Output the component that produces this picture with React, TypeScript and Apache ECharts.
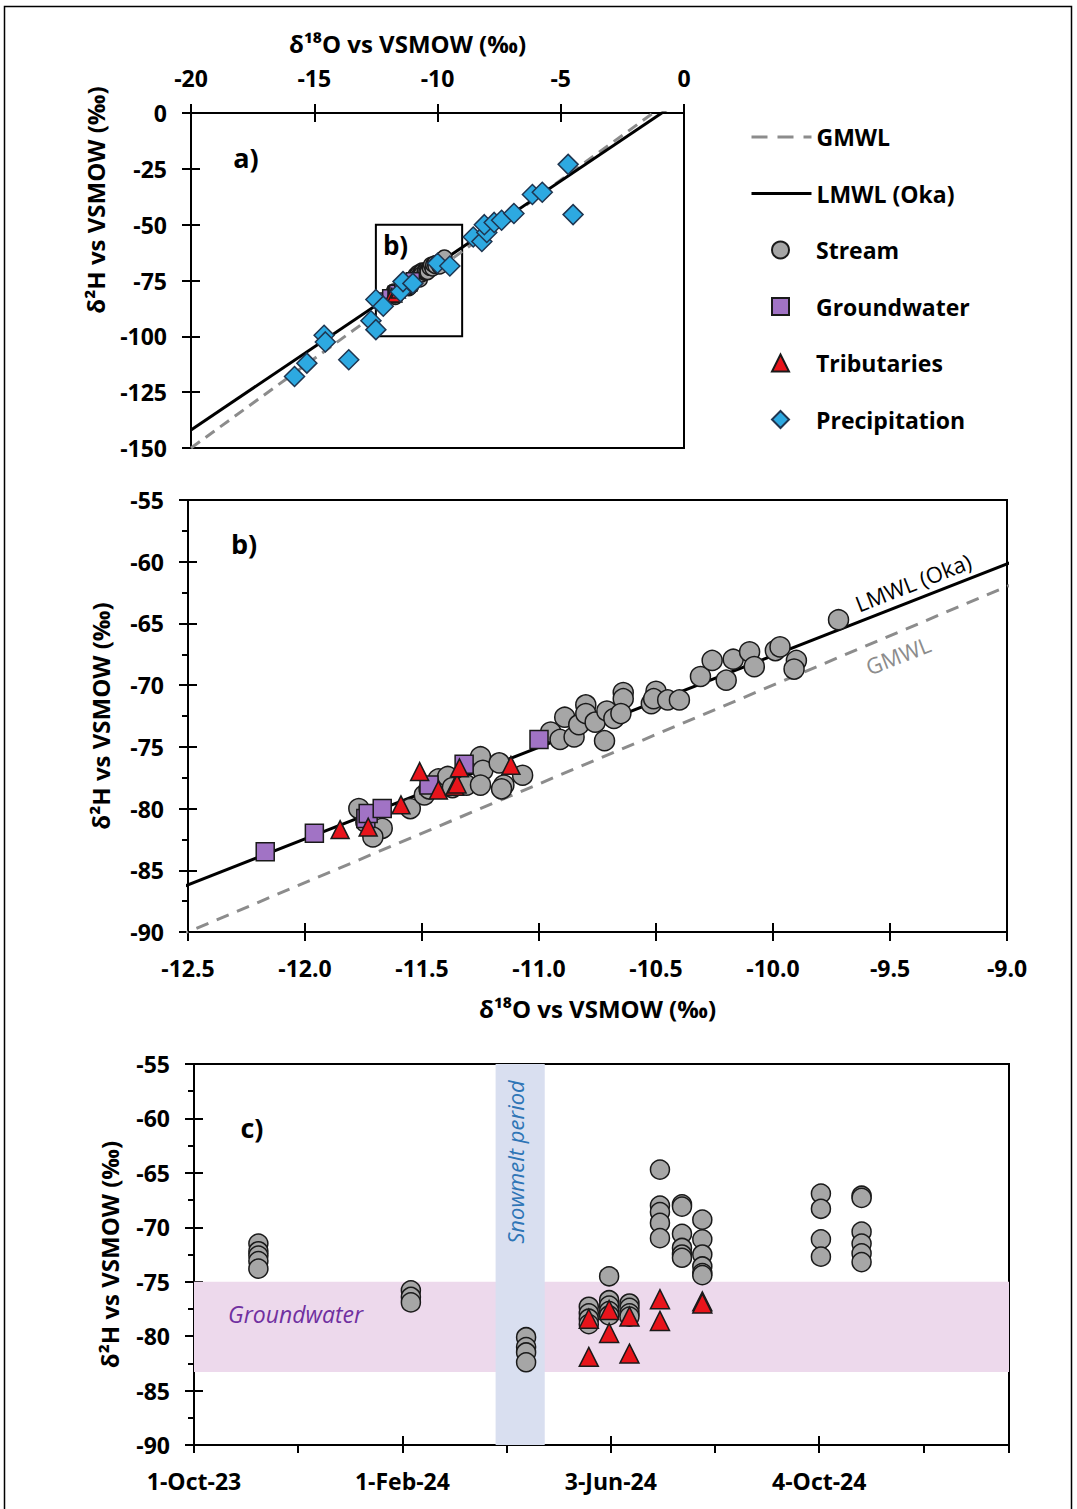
import React, { useEffect, useRef } from 'react';
import * as echarts from 'echarts';

const FONT = '"Open Sans", "Noto Sans", "DejaVu Sans", sans-serif';

// Isotope pairs [δ18O, δ2H] in ‰ vs VSMOW
const streamIsotopes: number[][] = [
  [-11.77, -80.0], [-11.74, -81.1], [-11.67, -81.6], [-11.71, -82.3], [-11.55, -80.0],
  [-11.49, -78.9], [-11.47, -78.4], [-11.43, -77.6], [-11.39, -77.4], [-11.37, -78.3],
  [-11.31, -78.1], [-11.25, -75.8], [-11.24, -76.9], [-11.25, -78.1], [-11.17, -76.3],
  [-11.15, -78.1], [-11.16, -78.4], [-11.07, -77.3],
  [-10.95, -73.8], [-10.91, -74.4], [-10.89, -72.6], [-10.85, -74.2], [-10.83, -73.2],
  [-10.80, -71.6], [-10.80, -72.3], [-10.76, -73.0], [-10.71, -72.1], [-10.68, -72.7],
  [-10.72, -74.5], [-10.64, -70.6], [-10.64, -71.1], [-10.65, -72.3], [-10.52, -71.5],
  [-10.50, -70.5], [-10.51, -71.1], [-10.45, -71.2], [-10.40, -71.2], [-10.31, -69.3],
  [-10.26, -68.0], [-10.20, -69.6], [-10.17, -67.9], [-10.10, -67.3], [-10.08, -68.5],
  [-9.99, -67.2], [-9.97, -66.9], [-9.90, -68.0], [-9.91, -68.7], [-9.72, -64.7],
];

const groundwaterIsotopes: number[][] = [
  [-12.17, -83.5], [-11.96, -82.0], [-11.74, -80.8], [-11.73, -80.4],
  [-11.67, -80.0], [-11.47, -78.1], [-11.32, -76.4], [-11.00, -74.4],
];

const tributaryIsotopes: number[][] = [
  [-11.85, -81.7], [-11.73, -81.5], [-11.59, -79.7], [-11.51, -77.0], [-11.43, -78.5],
  [-11.36, -78.2], [-11.35, -78.0], [-11.34, -76.7], [-11.12, -76.5],
];

const precipitationIsotopes: number[][] = [
  [-15.8, -118.0], [-15.3, -112.0], [-14.6, -99.5], [-14.55, -102.5], [-13.6, -110.5],
  [-12.7, -93.0], [-12.5, -97.0], [-12.5, -83.5], [-12.2, -86.5], [-11.5, -80.0],
  [-11.4, -75.5], [-11.0, -76.3], [-10.0, -67.3], [-9.5, -68.5], [-8.55, -55.5],
  [-8.2, -57.5], [-8.0, -53.5], [-8.1, -50.0], [-7.7, -49.0], [-7.4, -48.0],
  [-6.9, -45.0], [-6.15, -36.5], [-5.75, -35.5], [-4.7, -23.0], [-4.5, -45.5],
];

// Meteoric water lines, given by their end points
const mwlEndsO18 = [-20, 0];
const gmwlEndsH2 = [-150, 10];
const lmwlEndsH2 = [-141.9, 6.7];

// Extent of the enlarged view, outlined in the overview plot
const zoomBoxO18 = [-12.5, -9];
const zoomBoxH2 = [-50, -100];

// Sampling date and δ2H
const streamTimeSeries: [string, number][] = [
  ['2023-11-08', -71.5], ['2023-11-08', -72.2], ['2023-11-08', -72.6], ['2023-11-08', -73.1], ['2023-11-08', -73.8],
  ['2024-02-06', -75.8], ['2024-02-06', -76.4], ['2024-02-06', -76.9],
  ['2024-04-14', -80.1], ['2024-04-14', -81.0], ['2024-04-14', -81.5], ['2024-04-14', -82.4],
  ['2024-05-21', -77.3], ['2024-05-21', -77.9], ['2024-05-21', -78.4], ['2024-05-21', -78.9],
  ['2024-06-02', -74.5], ['2024-06-02', -76.7], ['2024-06-02', -77.2], ['2024-06-02', -77.7], ['2024-06-02', -78.1],
  ['2024-06-14', -77.0], ['2024-06-14', -77.4], ['2024-06-14', -77.9], ['2024-06-14', -78.2],
  ['2024-07-02', -64.7], ['2024-07-02', -68.0], ['2024-07-02', -68.6], ['2024-07-02', -69.6], ['2024-07-02', -71.0],
  ['2024-07-15', -67.9], ['2024-07-15', -68.1], ['2024-07-15', -70.6], ['2024-07-15', -71.9], ['2024-07-15', -72.5], ['2024-07-15', -72.8],
  ['2024-07-27', -69.3], ['2024-07-27', -71.1], ['2024-07-27', -72.5], ['2024-07-27', -73.6], ['2024-07-27', -74.2], ['2024-07-27', -74.4],
  ['2024-10-05', -66.9], ['2024-10-05', -68.3], ['2024-10-05', -71.1], ['2024-10-05', -72.7],
  ['2024-10-29', -67.1], ['2024-10-29', -67.3], ['2024-10-29', -70.4], ['2024-10-29', -71.5], ['2024-10-29', -72.4], ['2024-10-29', -73.2],
];

const tributaryTimeSeries: [string, number][] = [
  ['2024-05-21', -78.4], ['2024-05-21', -81.9],
  ['2024-06-02', -77.6], ['2024-06-02', -79.7],
  ['2024-06-14', -78.2], ['2024-06-14', -81.6],
  ['2024-07-02', -76.6], ['2024-07-02', -78.6],
  ['2024-07-27', -76.8], ['2024-07-27', -77.0],
];

const snowmeltPeriod = ['2024-03-27', '2024-04-25'];
const groundwaterRange = [-75, -83.3];

const timeAxisStart = '2023-10-01';
const timeAxisEnd = '2025-01-24';
const dateTickLabels = ['1-Oct-23', '1-Feb-24', '3-Jun-24', '4-Oct-24'];
const dateTickStep = 123; // days between labelled ticks

const dayNumber = (s: string) => {
  const [y, m, d] = s.split('-').map(Number);
  return Date.UTC(y, m - 1, d) / 86400000;
};
const toDays = (s: string) => dayNumber(s) - dayNumber(timeAxisStart);

const COLORS = {
  stream: '#A6A6A6',
  groundwater: '#A173C5',
  tributary: '#E8141B',
  precipitation: '#2DA9E1',
  edge: '#1A1A1A',
  precipEdge: '#1F3550',
  gmwl: '#8C8C8C',
};

const tickLine = { color: '#000', width: 2 };
const labelFont = { color: '#000', fontFamily: FONT, fontWeight: 'bold' as const, fontSize: 23 };
const titleFont = { color: '#000', fontFamily: FONT, fontWeight: 'bold' as const, fontSize: 24 };

const GRIDS = [
  { left: 191, top: 113, width: 493, height: 335 },
  { left: 188, top: 500, width: 819, height: 432 },
  { left: 194, top: 1064, width: 815, height: 381 },
];

function mainAxis(gridIndex: number, position: string, min: number, max: number, interval: number, extra: any = {}) {
  return {
    gridIndex,
    type: 'value',
    position,
    min,
    max,
    interval,
    axisLine: { show: true, onZero: false, lineStyle: { color: '#000', width: 2 } },
    axisTick: { show: true, inside: false, length: 9, lineStyle: tickLine },
    axisLabel: { ...labelFont, margin: 24 },
    splitLine: { show: false },
    ...extra,
  };
}

// Companion axis drawing the inner half of the crossing major ticks
function innerTickAxis(gridIndex: number, position: string, min: number, max: number, interval: number) {
  return {
    gridIndex,
    type: 'value',
    position,
    min,
    max,
    interval,
    axisLine: { show: false, onZero: false },
    axisTick: { show: true, inside: true, length: 9, lineStyle: tickLine },
    axisLabel: { show: false },
    splitLine: { show: false },
  };
}

const mwlData = (ends: number[]) => mwlEndsO18.map((o, i) => [o, ends[i]]);

function mwlSeries(name: string, ends: number[], color: string, type: any, axis: number, extra: any = {}) {
  return {
    type: 'line',
    name,
    xAxisIndex: axis,
    yAxisIndex: axis,
    data: mwlData(ends),
    symbol: 'none',
    itemStyle: { color: 'rgba(0,0,0,0)', borderWidth: 0 },
    lineStyle: { color, width: 3, type },
    clip: true,
    silent: true,
    z: 2,
    ...extra,
  };
}

function scatterSeries(name: string, data: any[], symbol: string, size: number, color: string, border: string, axis: number, extra: any = {}) {
  return {
    type: 'scatter',
    name,
    xAxisIndex: axis,
    yAxisIndex: axis,
    data,
    symbol,
    symbolSize: size,
    itemStyle: { color, borderColor: border, borderWidth: 1.5, opacity: 1 },
    silent: true,
    z: 3,
    ...extra,
  };
}

const O18_NAME = 'δ¹⁸O vs VSMOW (‰)';
const H2_NAME = 'δ²H vs VSMOW (‰)';

const timeData = (rows: [string, number][]) => rows.map(([d, v]) => [toDays(d), v]);

const option: any = {
  animation: false,
  backgroundColor: '#fff',
  grid: [
    { ...GRIDS[0], show: true, borderColor: '#000', borderWidth: 2, backgroundColor: 'transparent' },
    { ...GRIDS[0], show: false },
    { ...GRIDS[1], show: true, borderColor: '#000', borderWidth: 2, backgroundColor: 'transparent' },
    { ...GRIDS[1], show: false },
    { ...GRIDS[2], show: true, borderColor: '#000', borderWidth: 2, backgroundColor: 'transparent' },
    { ...GRIDS[2], show: false },
  ],
  xAxis: [
    mainAxis(0, 'top', -20, 0, 5, {
      name: O18_NAME,
      nameLocation: 'middle',
      nameGap: 58,
      nameTextStyle: { ...titleFont, padding: [0, 60, 0, 0] },
    }),
    innerTickAxis(1, 'top', -20, 0, 5),
    mainAxis(2, 'bottom', -12.5, -9, 0.5, {
      axisLabel: { ...labelFont, margin: 24, formatter: (v: number) => v.toFixed(1) },
      name: O18_NAME,
      nameLocation: 'middle',
      nameGap: 64,
      nameTextStyle: titleFont,
    }),
    innerTickAxis(3, 'bottom', -12.5, -9, 0.5),
    mainAxis(4, 'bottom', 0, toDays(timeAxisEnd), dateTickStep / 2, {
      axisTick: { show: true, inside: false, length: 8, lineStyle: tickLine },
      axisLabel: {
        ...labelFont,
        margin: 24,
        formatter: (v: number) => {
          const k = Math.round(v / dateTickStep);
          return Math.abs(v - k * dateTickStep) < 1e-6 ? dateTickLabels[k] ?? '' : '';
        },
      },
    }),
    innerTickAxis(5, 'bottom', 0, toDays(timeAxisEnd), dateTickStep),
  ],
  yAxis: [
    mainAxis(0, 'left', -150, 0, 25),
    innerTickAxis(1, 'left', -150, 0, 25),
    mainAxis(2, 'left', -90, -55, 5, {
      minorTick: { show: true, splitNumber: 2, length: 6, lineStyle: tickLine },
      name: H2_NAME,
      nameLocation: 'middle',
      nameRotate: 90,
      nameGap: 76,
      nameTextStyle: titleFont,
    }),
    innerTickAxis(3, 'left', -90, -55, 5),
    mainAxis(4, 'left', -90, -55, 5, {
      minorTick: { show: true, splitNumber: 2, length: 6, lineStyle: tickLine },
      name: H2_NAME,
      nameLocation: 'middle',
      nameRotate: 90,
      nameGap: 73,
      nameTextStyle: titleFont,
    }),
    innerTickAxis(5, 'left', -90, -55, 5),
  ],
  legend: [
    {
      data: [{ name: 'GMWL', lineStyle: { type: [16, 10] } }, { name: 'LMWL (Oka)' }],
      orient: 'vertical',
      left: 745,
      top: 120,
      itemWidth: 60,
      itemHeight: 14,
      itemGap: 32.5,
      selectedMode: false,
      lineStyle: { width: 3 },
      textStyle: { ...titleFont, fontSize: 23, lineHeight: 24 },
    },
    {
      data: ['Stream', 'Groundwater', 'Tributaries', 'Precipitation'],
      orient: 'vertical',
      left: 766,
      top: 233,
      itemWidth: 17,
      itemHeight: 17,
      itemGap: 32.5,
      selectedMode: false,
      textStyle: { ...titleFont, fontSize: 23, lineHeight: 24, padding: [0, 0, 0, 22] },
    },
  ],
  series: [
    // Overview (a)
    mwlSeries('GMWL', gmwlEndsH2, COLORS.gmwl, [11, 7], 0, {
      markArea: {
        silent: true,
        itemStyle: { color: 'rgba(0,0,0,0)', borderColor: '#000', borderWidth: 2 },
        label: { show: true, position: 'insideTopLeft', distance: 8, ...titleFont, fontSize: 26 },
        data: [[{ name: 'b)', coord: [zoomBoxO18[0], zoomBoxH2[0]] }, { coord: [zoomBoxO18[1], zoomBoxH2[1]] }]],
      },
    }),
    mwlSeries('LMWL (Oka)', lmwlEndsH2, '#000', 'solid', 0),
    scatterSeries('Stream', streamIsotopes, 'circle', 15, COLORS.stream, COLORS.edge, 0),
    scatterSeries('Groundwater', groundwaterIsotopes, 'rect', 13, COLORS.groundwater, COLORS.edge, 0),
    scatterSeries('Tributaries', tributaryIsotopes, 'triangle', 14, COLORS.tributary, COLORS.edge, 0),
    scatterSeries('Precipitation', precipitationIsotopes, 'diamond', 20, COLORS.precipitation, COLORS.precipEdge, 0),
    // Enlarged view (b)
    mwlSeries('GMWL', gmwlEndsH2, COLORS.gmwl, [13, 9], 2),
    mwlSeries('LMWL (Oka)', lmwlEndsH2, '#000', 'solid', 2),
    scatterSeries('Stream', streamIsotopes, 'circle', 20, COLORS.stream, COLORS.edge, 2),
    scatterSeries('Groundwater', groundwaterIsotopes, 'rect', 18, COLORS.groundwater, COLORS.edge, 2),
    scatterSeries('Tributaries', tributaryIsotopes, 'triangle', 18, COLORS.tributary, COLORS.edge, 2),
    // Time series (c)
    scatterSeries('Stream', timeData(streamTimeSeries), 'circle', 19, COLORS.stream, COLORS.edge, 4, {
      markArea: {
        silent: true,
        data: [
          [
            {
              name: 'Groundwater',
              yAxis: groundwaterRange[0],
              itemStyle: { color: '#EDD9EC' },
              label: {
                show: true,
                position: 'insideLeft',
                distance: 34,
                offset: [0, -13],
                color: '#7030A0',
                fontFamily: FONT,
                fontStyle: 'italic',
                fontSize: 23,
              },
            },
            { yAxis: groundwaterRange[1] },
          ],
          [
            {
              name: 'Snowmelt period',
              xAxis: toDays(snowmeltPeriod[0]),
              itemStyle: { color: '#D9DFF0' },
              label: { show: false },
            },
            { xAxis: toDays(snowmeltPeriod[1]) },
          ],
        ],
      },
    }),
    scatterSeries('Tributaries', timeData(tributaryTimeSeries), 'triangle', 19, COLORS.tributary, COLORS.edge, 4),
  ],
  graphic: [
    {
      type: 'rect',
      z: 100,
      shape: { x: 4.5, y: 6.5, width: 1067, height: 1530 },
      style: { fill: 'none', stroke: '#000', lineWidth: 1.5 },
      silent: true,
    },
    {
      type: 'text',
      z: 100,
      x: 95,
      y: 200,
      rotation: Math.PI / 2,
      style: { text: H2_NAME, ...titleFont, fill: '#000', align: 'center', verticalAlign: 'middle' },
      silent: true,
    },
    {
      type: 'text',
      z: 100,
      x: 246,
      y: 157,
      style: { text: 'a)', ...titleFont, fontSize: 27, fill: '#000', align: 'center', verticalAlign: 'middle' },
      silent: true,
    },
    {
      type: 'text',
      z: 100,
      x: 244,
      y: 543,
      style: { text: 'b)', ...titleFont, fontSize: 27, fill: '#000', align: 'center', verticalAlign: 'middle' },
      silent: true,
    },
    {
      type: 'text',
      z: 100,
      x: 252,
      y: 1127,
      style: { text: 'c)', ...titleFont, fontSize: 27, fill: '#000', align: 'center', verticalAlign: 'middle' },
      silent: true,
    },
    {
      type: 'text',
      z: 100,
      x: 913,
      y: 582,
      rotation: (21.4 * Math.PI) / 180,
      style: { text: 'LMWL (Oka)', fontFamily: FONT, fontSize: 22, fill: '#000', align: 'center', verticalAlign: 'middle' },
      silent: true,
    },
    {
      type: 'text',
      z: 100,
      x: 898,
      y: 655,
      rotation: (21.4 * Math.PI) / 180,
      style: { text: 'GMWL', fontFamily: FONT, fontSize: 22, fill: '#8C8C8C', align: 'center', verticalAlign: 'middle' },
      silent: true,
    },
    {
      type: 'text',
      z: 100,
      x: 515,
      y: 1162,
      rotation: Math.PI / 2,
      style: {
        text: 'Snowmelt period',
        fontFamily: FONT,
        fontStyle: 'italic',
        fontSize: 22,
        fill: '#2E75B6',
        align: 'center',
        verticalAlign: 'middle',
      },
      silent: true,
    },
  ],
};

export default function App() {
  const ref = useRef<HTMLDivElement>(null);
  useEffect(() => {
    if (!ref.current) return;
    const chart = echarts.init(ref.current, null, { renderer: 'svg' });
    chart.setOption(option);
    return () => chart.dispose();
  }, []);
  return (
    <div
      ref={ref}
      style={{ position: 'absolute', left: 0, top: 0, width: 1077, height: 1509, background: '#fff' }}
    />
  );
}
